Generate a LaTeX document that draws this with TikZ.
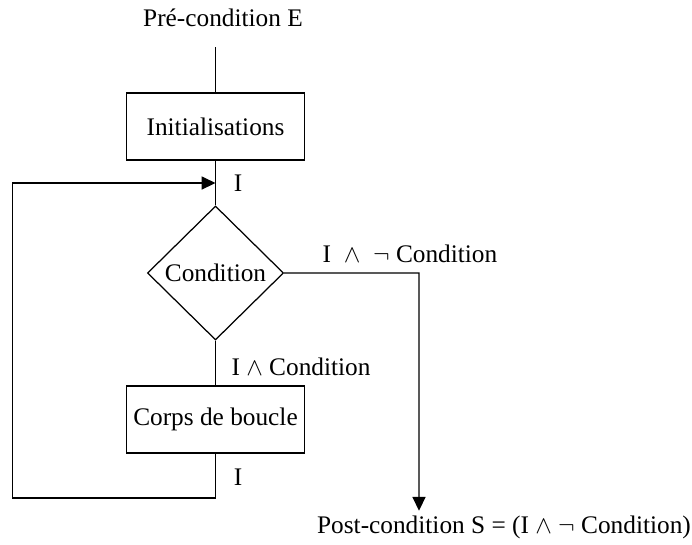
\documentclass[tikz,border=0pt]{standalone}
\usepackage{fontspec}
\setmainfont{Liberation Serif}
\usetikzlibrary{shapes.geometric,arrows.meta}

\begin{document}
\begin{tikzpicture}[x=0.482pt,y=-0.482pt,node distance=70.6pt,line width=0.6pt,
  font=\fontsize{12.2pt}{14.6pt}\selectfont,
  boite/.style={rectangle,draw,minimum width=85.8pt,minimum height=32.3pt},
  test/.style={diamond,draw,minimum width=65.6pt,minimum height=64.6pt,inner sep=0pt},
  fleche/.style={-{Triangle[length=6.7pt,width=6.3pt]}}]
\useasboundingbox (0,0) rectangle (692,544);
\node (pre) at (223,18) {Pré-condition E};
\coordinate (depart) at (215.5,47);
\node[boite] (init) at (215.5,126.5) {Initialisations};
\node[test,below of=init] (cond) {Condition};
\node[boite,below of=cond] (corps) {Corps de boucle};
\node[inner sep=2pt] (post) at (504,527) {Post-condition S = (I $\wedge$ $\neg$ Condition)};
\coordinate (entree) at (215.5,183);
\coordinate (bas) at (12.7,498);
\coordinate (coin) at (419,273);
\draw (depart) -- (init.north);
\draw (init.south) -- (cond.north);
\draw (cond.south) -- (corps.north);
\draw[fleche] (corps.south) |- (bas) |- (entree);
\draw[fleche] (cond.east) -- (coin) -- (coin |- post.north);
% etiquettes
\node (e1) at (238,183) {I};
\node (e2) at (410,254) {I\ \ $\wedge$\ \ $\neg$ Condition};
\node (e3) at (301,367) {I $\wedge$ Condition};
\node (e4) at (238,477) {I};
\end{tikzpicture}
\end{document}
